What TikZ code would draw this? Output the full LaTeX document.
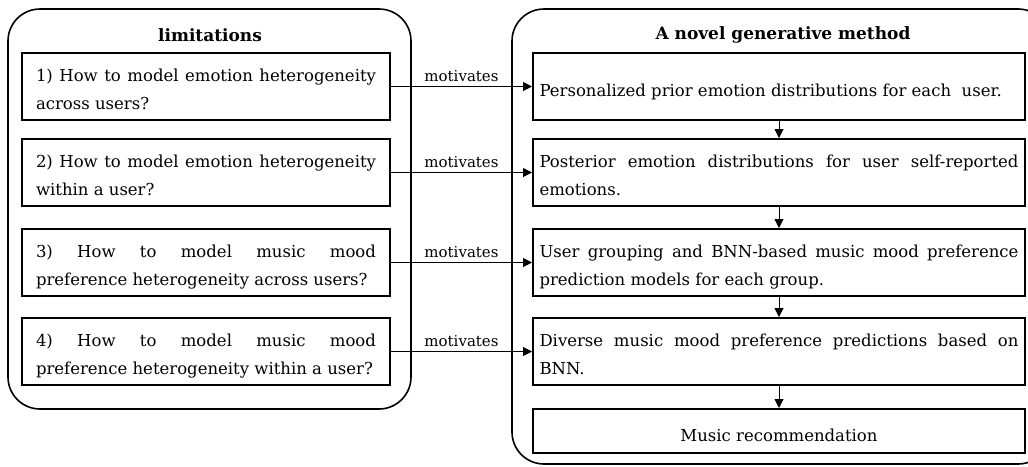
\documentclass[tikz,border=0pt]{standalone}
\usepackage{fontspec}
\setmainfont{DejaVu Serif}
\usetikzlibrary{arrows.meta}
\tikzset{
  container/.style={draw, line width=1.6pt, rounded corners=32pt},
  lbox/.style={draw, line width=2pt, rectangle, minimum width=368pt, minimum height=67pt,
    text width=340pt, inner xsep=14pt, inner ysep=0pt, align=left,
    font=\fontsize{16.5}{28}\selectfont},
  rbox/.style={draw, line width=2pt, rectangle, minimum width=492pt, minimum height=67pt,
    text width=479pt, inner xsep=6.5pt, inner ysep=0pt, align=left,
    font=\fontsize{16.5}{28}\selectfont},
  title/.style={font=\fontsize{17}{20}\selectfont\bfseries, inner sep=0pt},
  motiv/.style={-{Triangle[length=9pt,width=9pt]}, line width=1pt},
  flow/.style={-{Triangle[length=9pt,width=9pt]}, line width=1pt},
  lab/.style={font=\fontsize{15}{18}\selectfont, above, inner sep=4pt}
}
% first line of a two-line box, spread to the full width
\newcommand{\jline}[2]{\hbox to #1{\vrule height 22pt depth 0pt width 0pt\spaceskip=0pt\xspaceskip=0pt #2}}
% last line of a two-line box
\newcommand{\nline}[1]{\hbox{\vrule height 0pt depth 4pt width 0pt\spaceskip=0pt\xspaceskip=0pt #1}}
% single line
\newcommand{\sline}[3]{\hbox{\vrule height #1 depth #2 width 0pt\spaceskip=0pt\xspaceskip=0pt #3}}
\begin{document}
\begin{tikzpicture}[x=1pt,y=-1pt]
\path[use as bounding box, clip] (0,0) rectangle (1028,466);
\fill[white] (0,0) rectangle (1028,466);
% containers
\draw[container] (8,9) rectangle (411,409);
\draw[container] (512,9) rectangle (1050,464);
\node[title] (tl) at (210,35) {limitations};
\node[title] (tr) at (783,35) {A novel generative method};
% left boxes
\node[lbox] (l1) at (206,86.5) {\jline{340pt}{1) How to model emotion heterogeneity}\\\nline{across users?}};
\node[lbox] (l2) at (206,172.5) {\jline{340pt}{2) How to model emotion heterogeneity}\\\nline{within a user?}};
\node[lbox] (l3) at (206,262.5) {\jline{340pt}{3) How to model music mood}\\\nline{preference heterogeneity across users?}};
\node[lbox] (l4) at (206,351.5) {\jline{340pt}{4) How to model music mood}\\\nline{preference heterogeneity within a user?}};
% right boxes
\node[rbox] (r1) at (779,86.5) {\sline{23pt}{4pt}{Personalized prior emotion distributions for each~ user.}};
\node[rbox] (r2) at (779,172.5) {\jline{479pt}{Posterior emotion distributions for user self-reported}\\\nline{emotions.}};
\node[rbox] (r3) at (779,262.5) {\jline{479pt}{User grouping and BNN-based music mood preference}\\\nline{prediction models for each group.}};
\node[rbox] (r4) at (779,351.5) {\jline{479pt}{Diverse music mood preference predictions based on}\\\nline{BNN.}};
\node[rbox, minimum height=44pt, align=center] (r5) at (779,431) {\sline{22pt}{0pt}{Music recommendation}};
% motivates arrows
\draw[motiv] (l1.east) -- node[lab] {motivates} (r1.west);
\draw[motiv] (l2.east) -- node[lab] {motivates} (r2.west);
\draw[motiv] (l3.east) -- node[lab] {motivates} (r3.west);
\draw[motiv] (l4.east) -- node[lab] {motivates} (r4.west);
% flow arrows
\draw[flow] (r1.south) -- (r2.north);
\draw[flow] (r2.south) -- (r3.north);
\draw[flow] (r3.south) -- (r4.north);
\draw[flow] (r4.south) -- (r5.north);
\end{tikzpicture}
\end{document}
